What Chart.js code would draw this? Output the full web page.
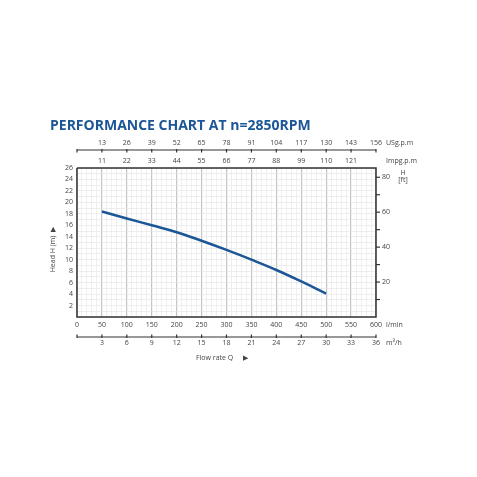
<!DOCTYPE html>
<html>
<head>
<meta charset="utf-8">
<script src="https://cdn.jsdelivr.net/npm/chart.js@4"></script>
<style>
  body { margin: 0; background: #fff; }
  #wrap { width: 477px; height: 477px; }
</style>
</head>
<body>
<div id="wrap"><canvas id="chart" width="477" height="477"></canvas></div>
<script>
// flow in l/min, head in m
const flowLmin = [50, 100, 150, 200, 250, 300, 350, 400, 450, 500];
const headM = [18.4, 17.2, 16.0, 14.8, 13.3, 11.7, 10.0, 8.2, 6.2, 4.1];

const lminTicks = [0, 50, 100, 150, 200, 250, 300, 350, 400, 450, 500, 550, 600];
const usgpmLabels = ["", "13", "26", "39", "52", "65", "78", "91", "104", "117", "130", "143", "156"];
const impgpmLabels = ["", "11", "22", "33", "44", "55", "66", "77", "88", "99", "110", "121", ""];
const m3hLabels = ["", "3", "6", "9", "12", "15", "18", "21", "24", "27", "30", "33", "36"];
const headTicks = [2, 4, 6, 8, 10, 12, 14, 16, 18, 20, 22, 24, 26];
const ftTicks = [10, 20, 30, 40, 50, 60, 70, 80];
const ftLabeled = [20, 40, 60, 80];

const FT = 0.3048;
const TXT = "#444";
const FONT = "7px 'Open Sans', sans-serif";

const extras = {
  id: "extras",
  afterDraw(chart) {
    const ctx = chart.ctx;
    const x = chart.scales.x, y = chart.scales.y;
    const a = chart.chartArea;
    ctx.save();
    // title
    ctx.fillStyle = "#1b5697";
    ctx.font = "bold 14px 'Open Sans', sans-serif";
    ctx.textAlign = "left";
    ctx.textBaseline = "middle";
    ctx.fillText("PERFORMANCE CHART AT n=2850RPM", 50, 126);

    // frame
    ctx.strokeStyle = "#333";
    ctx.lineWidth = 1.5;
    ctx.beginPath();
    ctx.moveTo(a.left, a.top); ctx.lineTo(a.left, a.bottom); ctx.lineTo(a.right, a.bottom); ctx.lineTo(a.right, a.top); ctx.lineTo(a.left, a.top);
    ctx.stroke();

    ctx.fillStyle = TXT;
    ctx.font = FONT;
    ctx.textAlign = "center";
    // bottom l/min
    lminTicks.forEach(v => ctx.fillText(String(v), x.getPixelForValue(v), a.bottom + 8));
    ctx.textAlign = "left";
    ctx.fillText("l/min", a.right + 10, a.bottom + 8);

    // m3/h axis
    const my = a.bottom + 20;
    ctx.lineWidth = 1.2;
    ctx.beginPath(); ctx.moveTo(a.left, my); ctx.lineTo(a.right, my); ctx.stroke();
    ctx.textAlign = "center";
    lminTicks.forEach((v, i) => {
      const px = x.getPixelForValue(v);
      ctx.beginPath(); ctx.moveTo(px, my - 2.5); ctx.lineTo(px, my + 1); ctx.stroke();
      if (m3hLabels[i]) ctx.fillText(m3hLabels[i], px, my + 6);
    });
    ctx.textAlign = "left";
    ctx.fillText("m\u00b3/h", a.right + 10, my + 6);
    ctx.textAlign = "center";
    ctx.fillText("Flow rate Q", x.getPixelForValue(250) + 13, my + 21);
    ctx.fillText("\u25b6", x.getPixelForValue(250) + 44, my + 21);

    // USgpm axis
    const uy = a.top - 18;
    ctx.beginPath(); ctx.moveTo(a.left, uy); ctx.lineTo(a.right, uy); ctx.stroke();
    lminTicks.forEach((v, i) => {
      const px = x.getPixelForValue(v);
      ctx.beginPath(); ctx.moveTo(px, uy - 1); ctx.lineTo(px, uy + 2.5); ctx.stroke();
      if (usgpmLabels[i]) ctx.fillText(usgpmLabels[i], px, uy - 7);
    });
    ctx.textAlign = "left";
    ctx.fillText("USg.p.m", a.right + 10, uy - 7);
    // Impgpm
    ctx.textAlign = "center";
    lminTicks.forEach((v, i) => {
      const px = x.getPixelForValue(v);
      if (impgpmLabels[i]) ctx.fillText(impgpmLabels[i], px, a.top - 7);
    });
    ctx.textAlign = "left";
    ctx.fillText("Impg.p.m", a.right + 10, a.top - 7);

    // left head labels
    ctx.textAlign = "right";
    headTicks.forEach(v => ctx.fillText(String(v), a.left - 4, y.getPixelForValue(v)));
    ctx.save();
    ctx.translate(a.left - 24, y.getPixelForValue(11));
    ctx.rotate(-Math.PI / 2);
    ctx.textAlign = "center";
    ctx.fillText("Head H (m)", 0, 0);
    ctx.fillText("\u25b6", 24, 0);
    ctx.restore();

    // right ft axis
    ctx.textAlign = "left";
    ftTicks.forEach(v => {
      const py = y.getPixelForValue(v * FT);
      ctx.beginPath(); ctx.moveTo(a.right, py); ctx.lineTo(a.right + 4, py); ctx.stroke();
      if (ftLabeled.includes(v)) ctx.fillText(String(v), a.right + 6, py);
    });
    ctx.textAlign = "center";
    ctx.fillText("H", a.right + 27, a.top + 5);
    ctx.fillText("[ft]", a.right + 27, a.top + 12);
    ctx.restore();
  }
};

new Chart(document.getElementById("chart"), {
  type: "line",
  data: {
    datasets: [{
      data: flowLmin.map((f, i) => ({ x: f, y: headM[i] })),
      borderColor: "#1b5697",
      borderWidth: 2.5,
      pointRadius: 0,
      tension: 0.4,
      fill: false
    }]
  },
  options: {
    responsive: false,
    animation: false,
    layout: { padding: { left: 77, right: 101, top: 168, bottom: 160 } },
    plugins: {
      legend: { display: false },
      tooltip: { enabled: false },
      title: { display: false }
    },
    scales: {
      x: {
        type: "linear", min: 0, max: 600,
        border: { display: false },
        ticks: { display: false, stepSize: 10 },
        grid: {
          drawTicks: false,
          color: c => (c.tick.value % 50 === 0 ? "#c4c4c4" : "#e6e6e6"),
          lineWidth: c => (c.tick.value % 50 === 0 ? 1.2 : 0.6)
        }
      },
      y: {
        min: 0, max: 26,
        border: { display: false },
        ticks: { display: false, stepSize: 1 },
        grid: { drawTicks: false, color: "#e3e3e3", lineWidth: 0.6 }
      }
    }
  },
  plugins: [extras]
});
</script>
</body>
</html>
